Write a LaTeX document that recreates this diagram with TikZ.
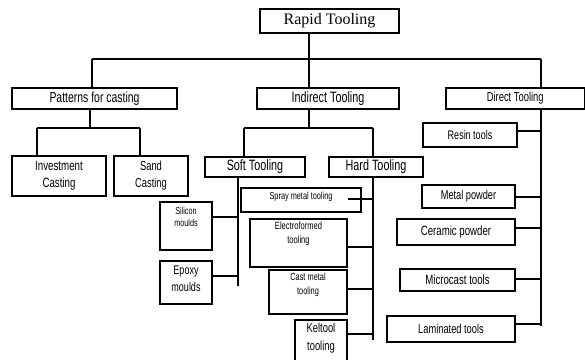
\documentclass[tikz,border=0pt]{standalone}
\usepackage{fontspec}
\setmainfont{Liberation Serif}
\newfontfamily\cond{Liberation Sans}[FakeStretch=0.72]
\newcommand\cf[2]{\cond\fontsize{#1}{#2}\selectfont}
\begin{document}
\begin{tikzpicture}[x=1pt,y=-1pt,
  box/.style={draw, line width=1.1pt, inner sep=0pt, align=center},
  txt/.style={inner sep=0pt, align=center},
  conn/.style={line width=1.5pt}]
\useasboundingbox (0,0) rectangle (585,359);
% top level
\node[box, minimum width=139pt, minimum height=24pt, font=\fontsize{16}{19}\selectfont] (rt) at (329.5,21) {Rapid Tooling};
\node[box, minimum width=165pt, minimum height=21pt, font=\cf{14.5}{17}] (pc) at (94.5,98.5) {Patterns for casting};
\node[box, minimum width=142pt, minimum height=21pt, font=\cf{15}{17}] (it) at (328,98.5) {Indirect Tooling};
\node[box, minimum width=138.5pt, minimum height=21pt, font=\cf{13}{15}] (dt) at (515.25,98.5) {Direct Tooling};
% patterns
\node[box, minimum width=94pt, minimum height=40pt, font=\cf{13.5}{17}] (inv) at (59,176) {Investment\\Casting};
\node[box, minimum width=74pt, minimum height=40pt, font=\cf{13}{17}] (sand) at (151,176) {Sand\\Casting};
% indirect
\node[box, minimum width=100pt, minimum height=20pt, font=\cf{15}{17}] (soft) at (255,167) {Soft Tooling};
\node[box, minimum width=94pt, minimum height=20pt, font=\cf{15}{17}] (hard) at (376,167) {Hard Tooling};
% soft
\node[box, minimum width=52pt, minimum height=48pt] (sil) at (186,226) {};
\node[txt, font=\cf{10}{12.7}] (silt) at (186,217) {Silicon\\moulds};
\node[box, minimum width=52pt, minimum height=43pt] (epo) at (186,282.5) {};
\node[txt, font=\cf{12.5}{16.6}] (epot) at (186,279) {Epoxy\\moulds};
% hard
\node[box, minimum width=120pt, minimum height=24pt] (spr) at (301,200) {};
\node[txt, font=\cf{10.2}{12}] (sprt) at (301,197) {Spray metal tooling};
\node[box, minimum width=97pt, minimum height=48pt] (ele) at (298.5,243) {};
\node[txt, font=\cf{10.5}{14}] (elet) at (298.5,234) {Electroformed\\tooling};
\node[box, minimum width=78pt, minimum height=44pt] (cas) at (308,292) {};
\node[txt, font=\cf{10.3}{14}] (cast) at (308,285) {Cast metal\\tooling};
\node[box, minimum width=52pt, minimum height=44pt] (kel) at (321,342) {};
\node[txt, font=\cf{13}{18}] (kelt) at (321,338) {Keltool\\tooling};
% direct
\node[box, minimum width=94pt, minimum height=24pt, font=\cf{12.5}{15}] (res) at (470,135) {Resin tools};
\node[box, minimum width=93pt, minimum height=23pt, font=\cf{12.8}{15}] (met) at (468.5,196.5) {Metal powder};
\node[box, minimum width=118pt, minimum height=26pt, font=\cf{13.4}{15}] (cer) at (456,232) {Ceramic powder};
\node[box, minimum width=115pt, minimum height=22pt, font=\cf{13.4}{15}] (mic) at (457.5,280) {Microcast tools};
\node[box, minimum width=128pt, minimum height=26pt, font=\cf{12.9}{15}] (lam) at (451,329) {Laminated tools};
% junction coordinates
\coordinate (j0) at (309,59);
\coordinate (jl) at (92,59);
\coordinate (jr) at (541,59);
\coordinate (p0) at (90,128);
\coordinate (pl) at (37,128);
\coordinate (pr) at (140,128);
\coordinate (i0) at (309,128);
\coordinate (il) at (244,128);
\coordinate (ir) at (373,128);
\coordinate (sEnd) at (238,286);
\coordinate (s1) at (238,217);
\coordinate (s2) at (238,276);
\coordinate (hEnd) at (373,340);
\coordinate (h1) at (373,199);
\coordinate (h2) at (373,247);
\coordinate (h3) at (373,289);
\coordinate (h4) at (373,334);
\coordinate (dEnd) at (541,326);
\coordinate (d1) at (541,131);
\coordinate (d2) at (541,197);
\coordinate (d3) at (541,228);
\coordinate (d4) at (541,279);
\coordinate (d5) at (541,324);
% top connectors
\draw[conn] (rt.south -| j0) -- (j0);
\draw[conn] (jl) -- (jr);
\draw[conn] (jl) -- (pc.north -| jl);
\draw[conn] (j0) -- (it.north -| j0);
\draw[conn] (jr) -- (dt.north -| jr);
% patterns
\draw[conn] (pc.south -| p0) -- (p0);
\draw[conn] (pl) -- (pr);
\draw[conn] (pl) -- (inv.north -| pl);
\draw[conn] (pr) -- (sand.north -| pr);
% indirect
\draw[conn] (it.south -| i0) -- (i0);
\draw[conn] (il) -- (ir);
\draw[conn] (il) -- (soft.north -| il);
\draw[conn] (ir) -- (hard.north -| ir);
% soft
\draw[conn] (soft.south -| sEnd) -- (sEnd);
\draw[conn] (sil.east |- s1) -- (s1);
\draw[conn] (epo.east |- s2) -- (s2);
% hard
\draw[conn] (hard.south -| hEnd) -- (hEnd);
\draw[conn] ([xshift=-14pt]spr.east |- h1) -- (h1);
\draw[conn] (ele.east |- h2) -- (h2);
\draw[conn] (cas.east |- h3) -- (h3);
\draw[conn] (kel.east |- h4) -- (h4);
% direct
\draw[conn] (dt.south -| dEnd) -- (dEnd);
\draw[conn] ([xshift=-2pt]res.east |- d1) -- (d1);
\draw[conn] (met.east |- d2) -- (d2);
\draw[conn] (cer.east |- d3) -- (d3);
\draw[conn] (mic.east |- d4) -- (d4);
\draw[conn] (lam.east |- d5) -- (d5);
\end{tikzpicture}
\end{document}
